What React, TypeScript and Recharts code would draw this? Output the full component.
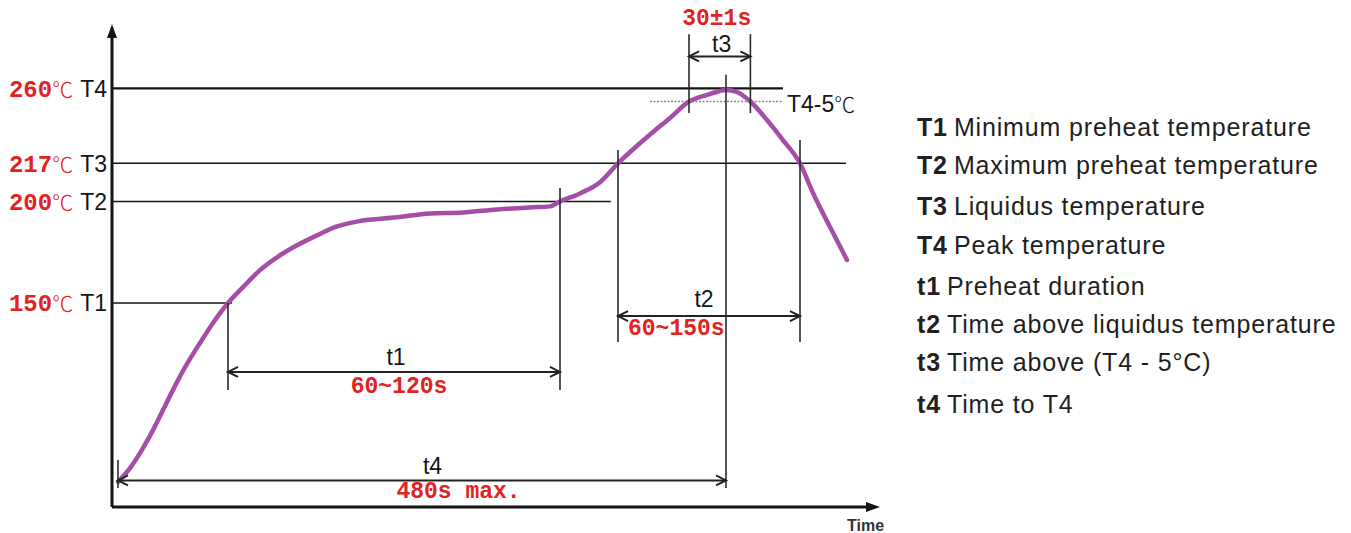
import React from 'react';
import { ComposedChart, Line, XAxis, YAxis, ReferenceLine } from 'recharts';

const W = 1351;
const H = 533;

const RED = '#e0231f';
const INK = '#151515';
const MONO = "'Liberation Mono', 'Courier New', monospace";
const SANS = "'Liberation Sans', Arial, Helvetica, sans-serif";
const CJK = "'Noto Sans CJK SC', 'DejaVu Sans', sans-serif";

// schematic (non-linear) temperature axis: break temperatures and their position in % of axis height
const tempBreaks = [50, 150, 200, 217, 255, 260, 300];
const tempBreakPct = [0, 42.24, 63.25, 71.16, 83.95, 86.69, 100];

const timeDomain: [number, number] = [0, 384];
const tempDomain: [number, number] = [50, 300];

// reflow profile curve (time in s, temperature in °C)
const profileTime = [
  3, 9, 15.5, 20.5, 25.5, 30.5, 37.5, 44, 50.5, 58, 65.5, 74, 82.5, 92.5, 102.5, 112.5, 123, 142.5, 159, 175.5,
  192.5, 209, 219, 224, 234, 244, 253, 262, 270.5, 279, 288.5, 297.5, 304, 307, 312.5, 319.2, 327.5, 335.5, 344,
  350.5, 359, 367.5,
];
const profileTemp = [
  62.3, 69.1, 78.9, 87.7, 97.5, 107.4, 120.1, 130.4, 140.2, 150, 157.8, 166.2, 172.5, 178.4, 183.3, 187.7, 190.2,
  192.2, 194.1, 194.6, 196.1, 197.1, 197.6, 200, 203.6, 208.6, 217, 227.2, 236.2, 244.9, 255, 257.5, 259, 259.4,
  258.6, 255, 243.6, 231.3, 217, 203.8, 187.4, 171.2,
];

// temperature levels
const levelNames = ['T1', 'T2', 'T3', 'T4'];
const levelTemps = [150, 200, 217, 260];
const levelEnds = [60, 249.4, 367, 335.5];

// T4 - 5 °C level
const nearPeakTemp = 255;
const nearPeakLabel = 'T4-5℃';
const nearPeakFrom = 269;
const nearPeakTo = 335;

// time spans
const spanNames = ['t1', 't2', 't3', 't4'];
const spanTexts = ['60~120s', '60~150s', '30±1s', '480s max.'];
const spanFrom = [58, 253, 288.5, 3];
const spanTo = [224, 344, 319.2, 307];
const spanLevel = [116.2, 143.6, 279.8, 63];

// vertical marker lines
const markerTime = [58, 224, 253, 344, 288.5, 319.2, 307, 3];
const markerTop = [150, 206, 225.2, 231.3, 293.7, 293.7, 268.4, 73];
const markerBottom = [107.4, 107.4, 130.9, 130.9, 247.9, 247.9, 59.3, 59.3];

const legendKeys = ['T1', 'T2', 'T3', 'T4', 't1', 't2', 't3', 't4'];
const legendTexts = [
  'Minimum preheat temperature',
  'Maximum preheat temperature',
  'Liquidus temperature',
  'Peak temperature',
  'Preheat duration',
  'Time above liquidus temperature',
  'Time above (T4 - 5°C)',
  'Time to T4',
];
const legendBaselines = [136, 174, 215, 254, 295, 333, 371, 413];

const profile = profileTime.map((t, i) => ({ time: t, temp: profileTemp[i] }));

function toPct(v: number): number {
  const xs = tempBreaks;
  const ys = tempBreakPct;
  let i = 0;
  while (i < xs.length - 2 && v > xs[i + 1]) i++;
  return ys[i] + ((v - xs[i]) / (xs[i + 1] - xs[i])) * (ys[i + 1] - ys[i]);
}
function fromPct(p: number): number {
  const xs = tempBreakPct;
  const ys = tempBreaks;
  let i = 0;
  while (i < xs.length - 2 && p > xs[i + 1]) i++;
  return ys[i] + ((p - xs[i]) / (xs[i + 1] - xs[i])) * (ys[i + 1] - ys[i]);
}

function makeTempScale(): any {
  let dom = [tempDomain[0], tempDomain[1]];
  let rng = [1, 0];
  const s: any = (v: any) => {
    const p0 = toPct(dom[0]);
    const p1 = toPct(dom[1]);
    const f = (toPct(Number(v)) - p0) / (p1 - p0);
    return rng[0] + f * (rng[1] - rng[0]);
  };
  s.domain = (d?: any) => {
    if (d === undefined) return dom.slice();
    dom = [Number(d[0]), Number(d[d.length - 1])];
    return s;
  };
  s.range = (r?: any) => {
    if (r === undefined) return rng.slice();
    rng = [Number(r[0]), Number(r[r.length - 1])];
    return s;
  };
  s.rangeRound = s.range;
  s.copy = () => makeTempScale().domain(dom).range(rng);
  s.invert = (y: number) => {
    const p0 = toPct(dom[0]);
    const p1 = toPct(dom[1]);
    const f = (y - rng[0]) / (rng[1] - rng[0]);
    return fromPct(p0 + f * (p1 - p0));
  };
  s.ticks = () => tempBreaks.filter((t) => t >= Math.min(dom[0], dom[1]) && t <= Math.max(dom[0], dom[1]));
  s.tickFormat = () => (v: any) => String(v);
  s.nice = () => s;
  s.clamp = () => s;
  s.interpolate = () => s;
  s.unknown = () => s;
  return s;
}
const tempScale = makeTempScale();

const AxisShape = (p: any) => {
  const { x1, y1, x2, y2 } = p;
  const dx = x2 - x1;
  const dy = y2 - y1;
  const len = Math.sqrt(dx * dx + dy * dy) || 1;
  const ux = dx / len;
  const uy = dy / len;
  const L = 14;
  const Wd = 5;
  const bx = x2 - ux * L;
  const by = y2 - uy * L;
  return (
    <g>
      <line x1={x1} y1={y1} x2={bx} y2={by} stroke={INK} strokeWidth={3} />
      <path
        d={`M${x2},${y2} L${bx - uy * Wd},${by + ux * Wd} L${bx + uy * Wd},${by - ux * Wd} Z`}
        fill={INK}
        stroke="none"
      />
    </g>
  );
};

const DimShape = (p: any) => {
  const { x1, y1, x2, y2 } = p;
  const a = 10;
  const h = 5;
  return (
    <g>
      <line x1={x1} y1={y1} x2={x2} y2={y2} stroke="#222" strokeWidth={2} />
      <polyline
        points={`${x1 + a},${y1 - h} ${x1},${y1} ${x1 + a},${y1 + h}`}
        fill="none"
        stroke="#222"
        strokeWidth={2}
      />
      <polyline
        points={`${x2 - a},${y2 - h} ${x2},${y2} ${x2 - a},${y2 + h}`}
        fill="none"
        stroke="#222"
        strokeWidth={2}
      />
    </g>
  );
};

const levelLabel = (name: string, temp: number) => (props: any) => {
  const vb = props.viewBox || {};
  return (
    <text x={vb.x - 5} y={vb.y + 8.5} textAnchor="end" fontSize={23}>
      <tspan fill={RED} fontFamily={MONO} fontWeight="bold" fontSize={24}>
        {temp}
      </tspan>
      <tspan fill={RED} fontFamily={CJK} fontWeight={300} fontSize={21}>
        ℃
      </tspan>
      <tspan fill={INK} fontFamily={SANS} dx={7}>
        {name}
      </tspan>
    </text>
  );
};

// placement of the span texts relative to the span line
const spanPlacement = [
  { nx: 2, ny: -7, tx: 5, ty: 21, anchor: 'middle' },
  { nx: -5, ny: -9, tx: 10, ty: 19, anchor: 'start' },
  { nx: 2, ny: -4, tx: -3, ty: -31, anchor: 'middle' },
  { nx: 10.5, ny: -6.5, tx: 36.5, ty: 17.5, anchor: 'middle' },
];

const spanLabel = (i: number) => (props: any) => {
  const vb = props.viewBox || {};
  const pl = spanPlacement[i];
  const cx = vb.x + vb.width / 2;
  const tX = pl.anchor === 'start' ? vb.x + pl.tx : cx + pl.tx;
  return (
    <g>
      <text x={cx + pl.nx} y={vb.y + pl.ny} textAnchor="middle" fontFamily={SANS} fontSize={23} fill={INK}>
        {spanNames[i]}
      </text>
      <text
        x={tX}
        y={vb.y + pl.ty}
        textAnchor={pl.anchor as any}
        fontFamily={MONO}
        fontWeight="bold"
        fontSize={23}
        fill={RED}
      >
        {spanTexts[i]}
      </text>
    </g>
  );
};

const nearPeakLabelContent = (props: any) => {
  const vb = props.viewBox || {};
  return (
    <text x={vb.x + vb.width + 5} y={vb.y + 10} textAnchor="start" fontFamily={SANS} fontSize={23} fill={INK}>
      {nearPeakLabel.slice(0, -1)}
      <tspan fontFamily={CJK} fontWeight={300} fontSize={21}>
        {nearPeakLabel.slice(-1)}
      </tspan>
    </text>
  );
};

const timeLabel = (props: any) => {
  const vb = props.viewBox || {};
  return (
    <text
      x={vb.x + vb.width - 33}
      y={vb.y + 24}
      textAnchor="start"
      fontFamily={SANS}
      fontWeight="bold"
      fontSize={16}
      fill="#333"
    >
      Time
    </text>
  );
};

export default function App() {
  return (
    <div style={{ position: 'absolute', left: 0, top: 0, width: W, height: H, background: '#fff' }}>
      <ComposedChart width={W} height={H} data={profile} margin={{ top: 24, right: 471, bottom: 26, left: 112 }}>
        <XAxis dataKey="time" type="number" domain={timeDomain} allowDataOverflow hide height={0} />
        <YAxis type="number" domain={tempDomain} scale={tempScale} allowDataOverflow hide width={0} />

        {levelTemps.map((t, i) => (
          <ReferenceLine
            key={`lvl-${i}`}
            segment={[
              { x: timeDomain[0], y: t },
              { x: levelEnds[i], y: t },
            ]}
            stroke={INK}
            strokeWidth={levelNames[i] === 'T4' ? 2.2 : 1.5}
            ifOverflow="visible"
            label={levelLabel(levelNames[i], t)}
          />
        ))}

        <ReferenceLine
          segment={[
            { x: nearPeakFrom, y: nearPeakTemp },
            { x: nearPeakTo, y: nearPeakTemp },
          ]}
          stroke="#8a8a8a"
          strokeWidth={1.5}
          strokeDasharray="2 1.5"
          ifOverflow="visible"
          label={nearPeakLabelContent}
        />

        <Line
          dataKey="temp"
          type="monotone"
          stroke="#a54ea8"
          strokeWidth={4.5}
          strokeLinecap="round"
          strokeLinejoin="round"
          dot={false}
          activeDot={false}
          isAnimationActive={false}
        />

        {markerTime.map((t, i) => (
          <ReferenceLine
            key={`mk-${i}`}
            segment={[
              { x: t, y: markerTop[i] },
              { x: t, y: markerBottom[i] },
            ]}
            stroke="#2a2a2a"
            strokeWidth={1.6}
            ifOverflow="visible"
          />
        ))}

        {spanNames.map((n, i) => (
          <ReferenceLine
            key={`sp-${n}`}
            segment={[
              { x: spanFrom[i], y: spanLevel[i] },
              { x: spanTo[i], y: spanLevel[i] },
            ]}
            ifOverflow="visible"
            shape={DimShape}
            label={spanLabel(i)}
          />
        ))}

        <ReferenceLine
          segment={[
            { x: timeDomain[0], y: tempDomain[0] },
            { x: timeDomain[1], y: tempDomain[0] },
          ]}
          ifOverflow="visible"
          shape={AxisShape}
          label={timeLabel}
        />
        <ReferenceLine
          segment={[
            { x: timeDomain[0], y: tempDomain[0] },
            { x: timeDomain[0], y: tempDomain[1] },
          ]}
          ifOverflow="visible"
          shape={AxisShape}
        />
      </ComposedChart>

      <svg
        width={W}
        height={H}
        style={{ position: 'absolute', left: 0, top: 0, pointerEvents: 'none' }}
      >
        {legendKeys.map((k, i) => (
          <text
            key={k}
            x={917}
            y={legendBaselines[i]}
            fontFamily={SANS}
            fontSize={25}
            letterSpacing={0.85}
            fill="#231f20"
          >
            <tspan fontWeight="bold">{k}</tspan>
            <tspan dx={6}>{legendTexts[i]}</tspan>
          </text>
        ))}
      </svg>
    </div>
  );
}
